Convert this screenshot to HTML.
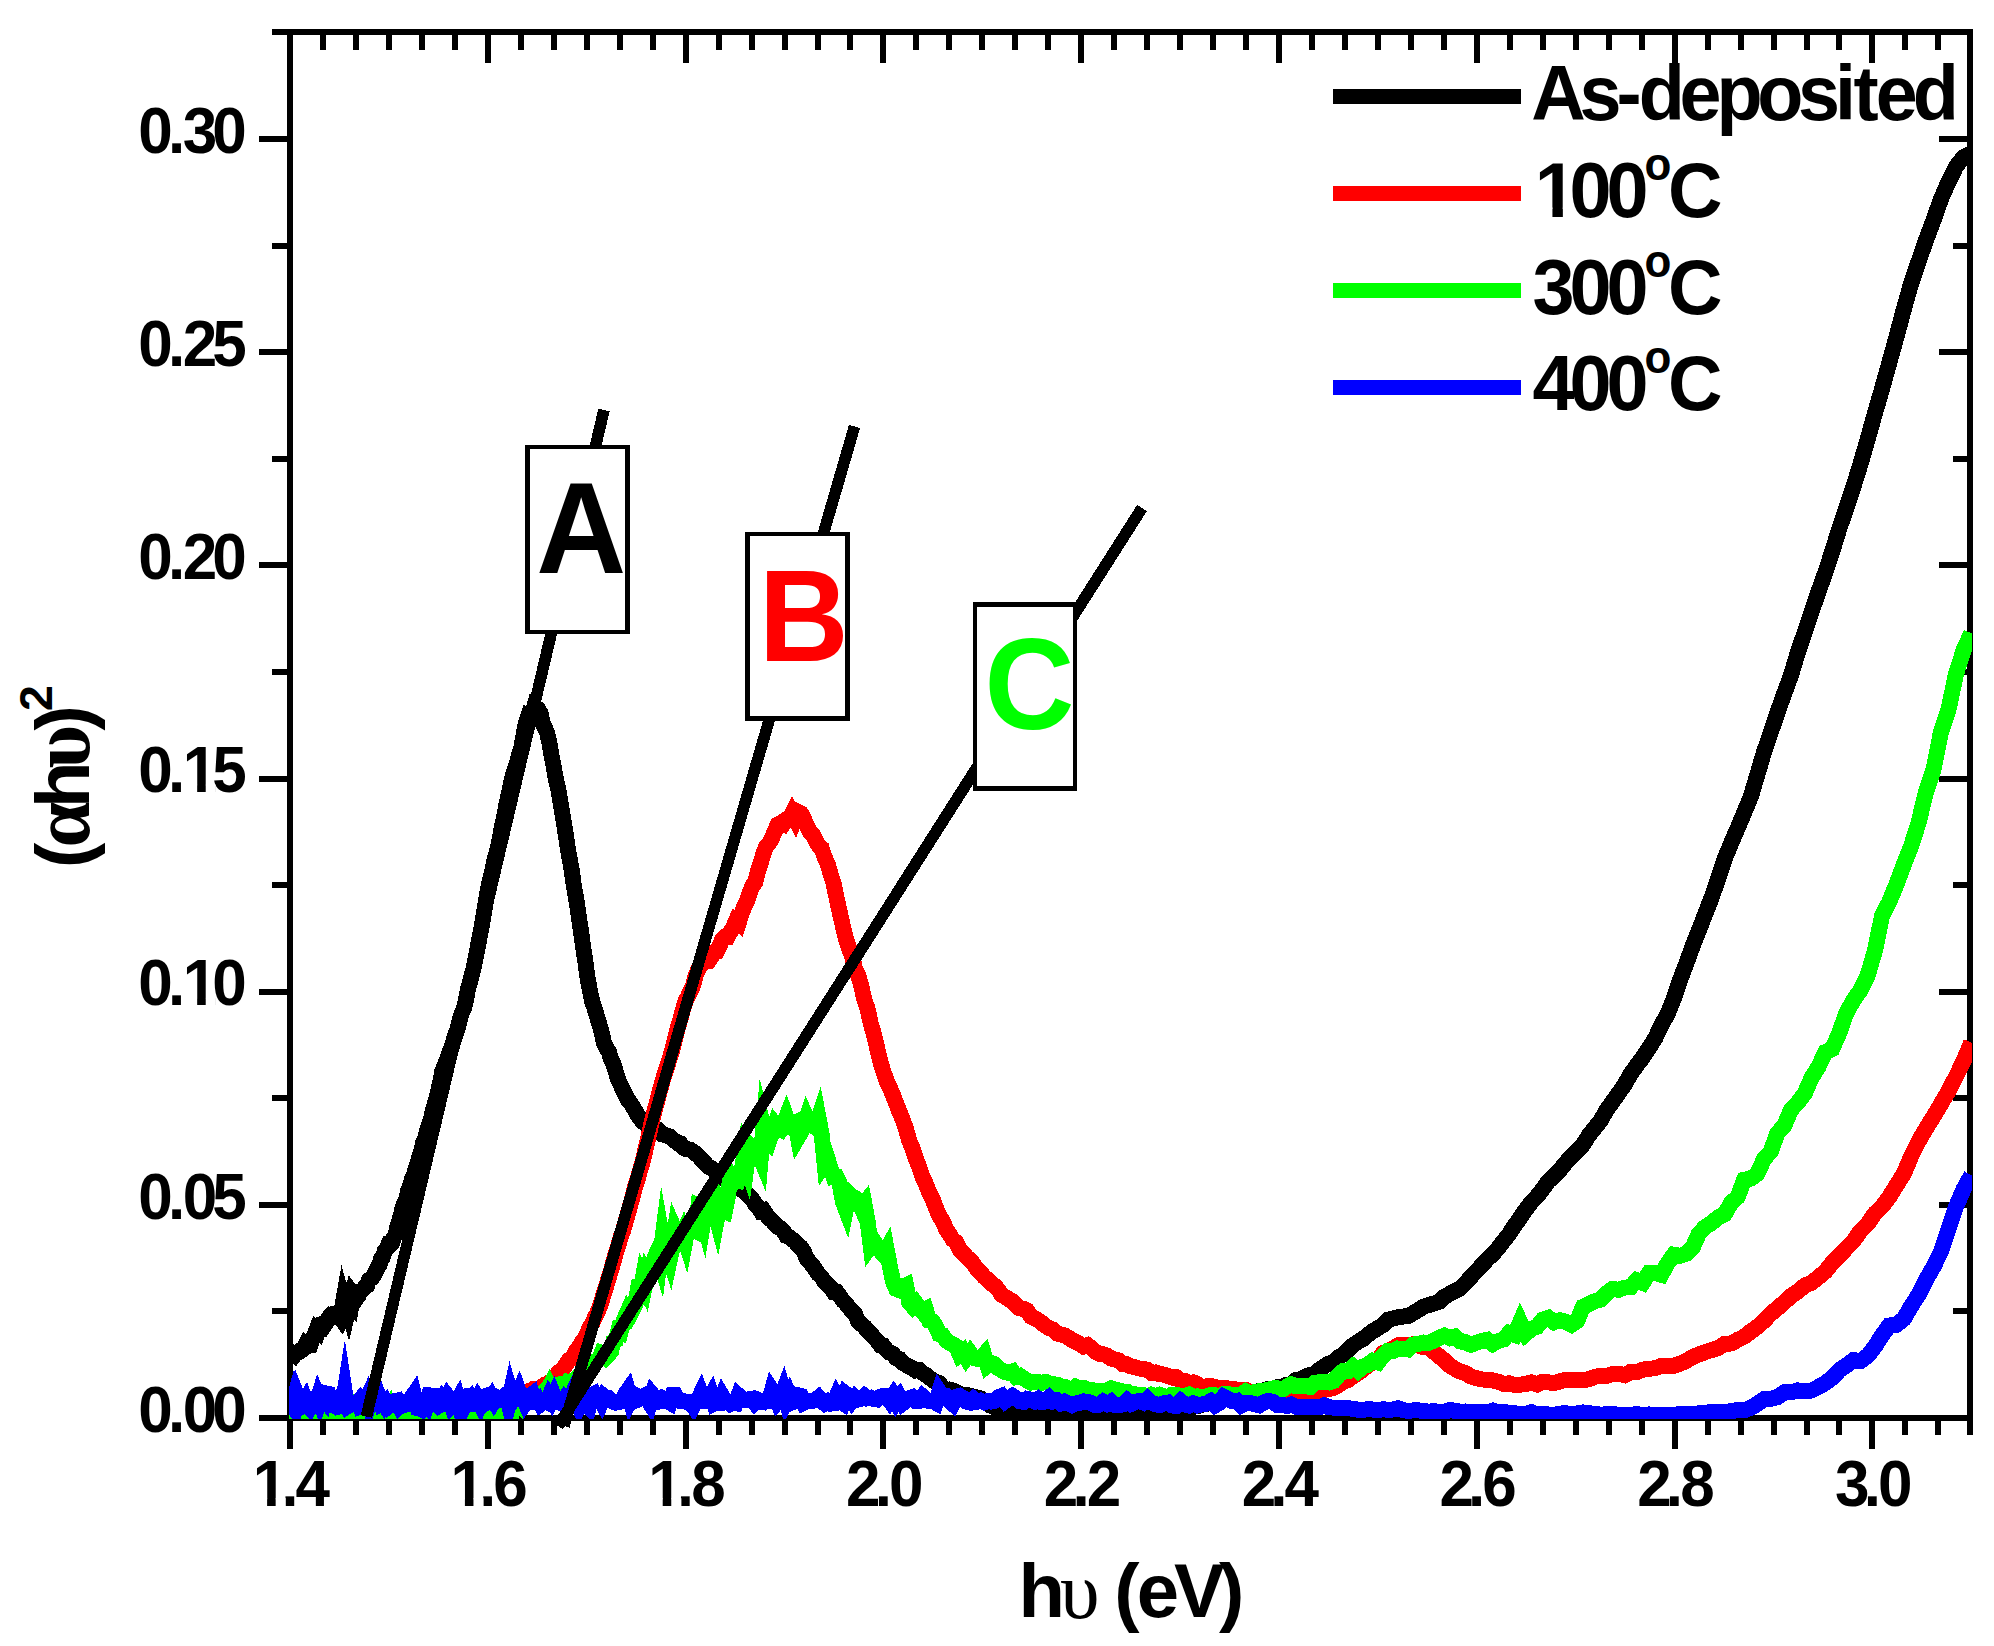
<!DOCTYPE html>
<html lang="en"><head><meta charset="utf-8"><title>(αhυ)² vs hυ (eV)</title>
<style>html,body{margin:0;padding:0;background:#fff}svg{display:block}text{font-family:"Liberation Sans",sans-serif;font-weight:bold}.sym{font-family:"Liberation Serif","DejaVu Serif",serif;font-weight:normal}.symb{font-family:"Liberation Serif","DejaVu Serif",serif;font-weight:bold}</style></head><body>
<svg width="1994" height="1646" viewBox="0 0 1994 1646">
<rect width="1994" height="1646" fill="#fff"/>
<g stroke="#000" stroke-width="6" fill="none" shape-rendering="crispEdges">
<path d="M290.0 29.0V1421.0 M1970.0 29.0V1421.0 M287.0 32.0H1973.0 M287.0 1418.0H1973.0"/>
<path d="M290.0 1418.0V1449.0 M323.0 32.0V50.0 M323.0 1418.0V1434.5 M355.9 32.0V50.0 M355.9 1418.0V1434.5 M388.9 32.0V50.0 M388.9 1418.0V1434.5 M421.9 32.0V50.0 M421.9 1418.0V1434.5 M454.8 32.0V50.0 M454.8 1418.0V1434.5 M487.8 32.0V63.0 M487.8 1418.0V1449.0 M520.8 32.0V50.0 M520.8 1418.0V1434.5 M553.7 32.0V50.0 M553.7 1418.0V1434.5 M586.7 32.0V50.0 M586.7 1418.0V1434.5 M619.7 32.0V50.0 M619.7 1418.0V1434.5 M652.6 32.0V50.0 M652.6 1418.0V1434.5 M685.6 32.0V63.0 M685.6 1418.0V1449.0 M718.6 32.0V50.0 M718.6 1418.0V1434.5 M751.5 32.0V50.0 M751.5 1418.0V1434.5 M784.5 32.0V50.0 M784.5 1418.0V1434.5 M817.5 32.0V50.0 M817.5 1418.0V1434.5 M850.4 32.0V50.0 M850.4 1418.0V1434.5 M883.4 32.0V63.0 M883.4 1418.0V1449.0 M916.4 32.0V50.0 M916.4 1418.0V1434.5 M949.3 32.0V50.0 M949.3 1418.0V1434.5 M982.3 32.0V50.0 M982.3 1418.0V1434.5 M1015.3 32.0V50.0 M1015.3 1418.0V1434.5 M1048.2 32.0V50.0 M1048.2 1418.0V1434.5 M1081.2 32.0V63.0 M1081.2 1418.0V1449.0 M1114.2 32.0V50.0 M1114.2 1418.0V1434.5 M1147.1 32.0V50.0 M1147.1 1418.0V1434.5 M1180.1 32.0V50.0 M1180.1 1418.0V1434.5 M1213.1 32.0V50.0 M1213.1 1418.0V1434.5 M1246.0 32.0V50.0 M1246.0 1418.0V1434.5 M1279.0 32.0V63.0 M1279.0 1418.0V1449.0 M1312.0 32.0V50.0 M1312.0 1418.0V1434.5 M1344.9 32.0V50.0 M1344.9 1418.0V1434.5 M1377.9 32.0V50.0 M1377.9 1418.0V1434.5 M1410.9 32.0V50.0 M1410.9 1418.0V1434.5 M1443.8 32.0V50.0 M1443.8 1418.0V1434.5 M1476.8 32.0V63.0 M1476.8 1418.0V1449.0 M1509.8 32.0V50.0 M1509.8 1418.0V1434.5 M1542.7 32.0V50.0 M1542.7 1418.0V1434.5 M1575.7 32.0V50.0 M1575.7 1418.0V1434.5 M1608.7 32.0V50.0 M1608.7 1418.0V1434.5 M1641.6 32.0V50.0 M1641.6 1418.0V1434.5 M1674.6 32.0V63.0 M1674.6 1418.0V1449.0 M1707.6 32.0V50.0 M1707.6 1418.0V1434.5 M1740.5 32.0V50.0 M1740.5 1418.0V1434.5 M1773.5 32.0V50.0 M1773.5 1418.0V1434.5 M1806.5 32.0V50.0 M1806.5 1418.0V1434.5 M1839.4 32.0V50.0 M1839.4 1418.0V1434.5 M1872.4 32.0V63.0 M1872.4 1418.0V1449.0 M1905.4 32.0V50.0 M1905.4 1418.0V1434.5 M1938.3 32.0V50.0 M1938.3 1418.0V1434.5 M1970.0 32.0V50.0 M1970.0 1418.0V1434.5 M290.0 1418.0H259.0 M290.0 1311.4H272.0 M1970.0 1311.4H1953.0 M290.0 1204.8H259.0 M1970.0 1204.8H1939.0 M290.0 1098.3H272.0 M1970.0 1098.3H1953.0 M290.0 991.7H259.0 M1970.0 991.7H1939.0 M290.0 885.1H272.0 M1970.0 885.1H1953.0 M290.0 778.5H259.0 M1970.0 778.5H1939.0 M290.0 671.9H272.0 M1970.0 671.9H1953.0 M290.0 565.3H259.0 M1970.0 565.3H1939.0 M290.0 458.8H272.0 M1970.0 458.8H1953.0 M290.0 352.2H259.0 M1970.0 352.2H1939.0 M290.0 245.6H272.0 M1970.0 245.6H1953.0 M290.0 139.0H259.0 M1970.0 139.0H1939.0 M290.0 32.4H272.0"/>
</g>
<clipPath id="pc"><rect x="289" y="30" width="1683" height="1389"/></clipPath>
<g clip-path="url(#pc)" shape-rendering="crispEdges">
<polyline points="289.6,1361.6 291.1,1359.5 292.7,1357.5 294.3,1352.7 295.8,1353.0 297.4,1352.4 299.0,1352.0 300.6,1350.2 302.2,1349.7 303.8,1348.0 305.4,1345.0 307.0,1346.5 308.6,1345.8 310.2,1345.5 311.8,1341.1 313.4,1337.1 315.0,1333.9 316.6,1329.6 318.3,1331.2 319.9,1327.0 321.5,1324.0 323.2,1323.3 324.8,1324.9 326.4,1322.4 328.1,1318.3 329.7,1316.4 331.4,1317.4 333.1,1316.0 334.7,1313.8 336.4,1313.5 338.1,1314.6 339.7,1316.8 341.4,1311.5 343.1,1301.9 344.8,1308.2 346.5,1303.9 348.2,1309.7 349.9,1302.4 351.6,1304.4 353.3,1294.9 355.0,1297.2 356.7,1298.2 358.4,1295.8 360.2,1291.3 361.9,1290.5 363.6,1288.9 365.4,1286.5 367.1,1285.5 368.8,1280.1 370.6,1278.8 372.3,1277.8 374.1,1274.7 375.9,1271.5 377.6,1267.9 379.4,1264.9 381.2,1258.6 382.9,1257.0 384.7,1251.3 386.5,1249.0 388.3,1244.7 390.1,1244.9 391.9,1243.1 393.7,1237.8 395.5,1235.0 397.3,1227.1 399.1,1221.2 401.0,1214.9 402.8,1207.1 404.6,1202.3 406.5,1198.9 408.3,1190.3 410.1,1185.8 412.0,1179.2 413.8,1175.4 415.7,1168.8 417.6,1162.9 419.4,1156.9 421.3,1150.6 423.2,1142.6 425.1,1139.3 426.9,1130.9 428.8,1125.8 430.7,1120.2 432.6,1111.7 434.5,1104.9 436.4,1098.9 438.4,1090.5 440.3,1081.7 442.2,1071.7 444.1,1066.7 446.1,1061.9 448.0,1056.9 449.9,1051.0 451.9,1046.6 453.8,1039.7 455.8,1033.7 457.8,1028.2 459.7,1020.1 461.7,1013.2 463.7,1009.1 465.7,1001.3 467.6,990.8 469.6,983.2 471.6,975.8 473.6,968.2 475.6,958.1 477.7,947.4 479.7,936.5 481.7,926.5 483.7,914.6 485.8,901.6 487.8,890.6 489.8,880.5 491.9,872.6 493.9,862.5 496.0,854.6 498.1,846.4 500.1,836.6 502.2,824.8 504.3,816.3 506.4,804.3 508.5,795.2 510.6,785.2 512.7,775.5 514.8,769.6 516.9,763.0 519.0,755.2 521.2,748.1 523.3,736.4 525.4,725.3 527.6,718.2 529.7,719.9 531.9,714.9 534.0,707.6 536.2,709.4 538.4,709.8 540.5,713.3 542.7,722.8 544.9,728.1 547.1,732.6 549.3,742.2 551.5,755.3 553.7,766.7 556.0,779.8 558.2,788.5 560.4,801.7 562.6,815.3 564.9,828.8 567.1,843.6 569.4,857.5 571.7,870.2 573.9,886.0 576.2,898.9 578.5,914.6 580.8,929.9 583.0,945.8 585.3,961.4 587.6,977.9 590.0,991.0 592.3,1001.7 594.6,1008.3 596.9,1016.2 599.3,1024.3 601.6,1031.8 604.0,1043.0 606.3,1047.9 608.7,1051.3 611.0,1059.0 613.4,1063.8 615.8,1071.8 618.2,1079.7 620.6,1084.7 623.0,1089.8 625.4,1094.6 627.8,1099.7 630.2,1102.6 632.7,1106.2 635.1,1110.5 637.5,1115.0 640.0,1118.0 642.5,1121.6 644.9,1123.4 647.4,1124.0 649.9,1125.8 652.4,1125.6 654.8,1127.6 657.3,1129.2 659.8,1132.0 662.4,1134.3 664.9,1134.9 667.4,1136.0 669.9,1136.4 672.5,1138.9 675.0,1141.1 677.6,1143.0 680.2,1143.4 682.7,1147.2 685.3,1148.8 687.9,1149.2 690.5,1149.9 693.1,1151.5 695.7,1153.8 698.3,1155.9 700.9,1158.6 703.6,1161.5 706.2,1164.6 708.9,1167.1 711.5,1168.3 714.2,1170.6 716.9,1172.0 719.5,1173.5 722.2,1177.7 724.9,1178.1 727.6,1181.7 730.3,1181.9 733.1,1183.6 735.8,1186.3 738.5,1187.5 741.3,1189.7 744.0,1191.4 746.8,1193.5 749.6,1196.4 752.3,1199.0 755.1,1204.2 757.9,1206.5 760.7,1211.2 763.5,1210.4 766.3,1214.6 769.2,1218.4 772.0,1220.5 774.9,1224.2 777.7,1226.7 780.6,1228.2 783.4,1230.9 786.3,1236.0 789.2,1237.1 792.1,1239.4 795.0,1241.5 797.9,1245.1 800.9,1247.3 803.8,1251.7 806.7,1258.5 809.7,1262.2 812.6,1265.6 815.6,1269.7 818.6,1274.3 821.6,1277.0 824.6,1281.8 827.6,1284.8 830.6,1287.3 833.6,1292.1 836.7,1292.0 839.7,1295.9 842.8,1300.5 845.8,1303.4 848.9,1307.5 852.0,1310.8 855.1,1314.3 858.2,1321.3 861.3,1324.1 864.4,1326.7 867.6,1331.1 870.7,1333.3 873.9,1337.4 877.0,1340.6 880.2,1345.1 883.4,1345.7 886.6,1350.0 889.8,1352.7 893.0,1354.0 896.2,1358.1 899.5,1359.0 902.7,1363.1 906.0,1364.7 909.3,1366.7 912.5,1368.0 915.8,1370.5 919.1,1370.0 922.4,1373.0 925.8,1374.7 929.1,1377.6 932.4,1379.7 935.8,1382.4 939.2,1383.1 942.5,1387.1 945.9,1390.1 949.3,1389.6 952.7,1390.4 956.2,1391.8 959.6,1394.1 963.1,1396.4 966.5,1395.0 970.0,1395.8 973.5,1396.5 977.0,1397.6 980.5,1398.4 984.0,1401.6 987.5,1402.2 991.0,1405.8 994.6,1407.4 998.2,1406.7 1001.7,1406.9 1005.3,1407.8 1008.9,1410.4 1012.5,1409.6 1016.2,1408.9 1019.8,1410.4 1023.5,1411.7 1027.1,1411.4 1030.8,1413.9 1034.5,1413.7 1038.2,1414.0 1041.9,1412.9 1045.6,1413.5 1049.4,1413.6 1053.1,1411.6 1056.9,1413.3 1060.7,1411.9 1064.5,1413.1 1068.3,1412.2 1072.1,1415.3 1075.9,1414.9 1079.8,1415.2 1083.7,1415.4 1087.5,1413.2 1091.4,1411.4 1095.3,1412.6 1099.2,1414.4 1103.2,1414.2 1107.1,1414.9 1111.1,1415.3 1115.1,1413.0 1119.0,1413.9 1123.0,1415.9 1127.1,1414.2 1131.1,1412.0 1135.1,1413.0 1139.2,1413.1 1143.3,1414.1 1147.4,1413.1 1151.5,1413.7 1155.6,1411.7 1159.7,1413.9 1163.9,1415.6 1168.1,1415.9 1172.2,1413.2 1176.4,1413.4 1180.7,1409.4 1184.9,1410.2 1189.1,1409.2 1193.4,1406.8 1197.7,1406.1 1202.0,1404.7 1206.3,1404.1 1210.6,1402.4 1214.9,1401.2 1219.3,1398.0 1223.7,1396.9 1228.1,1396.6 1232.5,1396.7 1236.9,1395.9 1241.3,1396.6 1245.8,1393.9 1250.3,1392.8 1254.7,1392.3 1259.3,1391.0 1263.8,1390.5 1268.3,1388.7 1272.9,1389.2 1277.5,1387.0 1282.1,1386.8 1286.7,1384.6 1291.3,1384.3 1296.0,1380.1 1300.6,1379.2 1305.3,1376.6 1310.0,1374.9 1314.8,1373.9 1319.5,1369.7 1324.3,1366.2 1329.0,1363.5 1333.8,1361.9 1338.7,1357.0 1343.5,1354.5 1348.3,1349.5 1353.2,1345.1 1358.1,1341.7 1363.0,1339.0 1368.0,1334.8 1372.9,1331.1 1377.9,1328.2 1382.9,1325.0 1387.9,1319.7 1392.9,1318.5 1398.0,1317.3 1403.1,1316.6 1408.2,1315.9 1413.3,1313.0 1418.4,1310.0 1423.6,1306.6 1428.8,1305.0 1434.0,1303.5 1439.2,1301.7 1444.4,1296.8 1449.7,1293.8 1455.0,1290.9 1460.3,1288.3 1465.7,1282.9 1471.0,1276.8 1476.4,1271.0 1481.8,1265.5 1487.2,1259.3 1492.7,1254.3 1498.1,1248.2 1503.6,1241.0 1509.1,1234.1 1514.7,1225.3 1520.2,1217.9 1525.8,1209.5 1531.4,1202.1 1537.1,1196.3 1542.7,1189.2 1548.4,1181.1 1554.1,1176.1 1559.9,1170.0 1565.6,1162.9 1571.4,1156.5 1577.2,1151.1 1583.0,1144.8 1588.9,1135.2 1594.8,1128.0 1600.7,1120.4 1606.6,1110.0 1612.6,1101.7 1618.6,1093.2 1624.6,1084.6 1630.6,1074.1 1636.7,1065.5 1642.8,1057.5 1648.9,1048.1 1655.1,1038.5 1661.3,1025.3 1667.5,1014.3 1673.7,999.0 1680.0,980.0 1686.3,963.7 1692.6,946.2 1698.9,930.5 1705.3,913.6 1711.7,897.5 1718.2,878.4 1724.6,859.1 1731.1,843.4 1737.6,828.3 1744.2,812.6 1750.8,796.8 1757.4,774.5 1764.0,752.2 1770.7,732.6 1777.4,712.8 1784.2,693.7 1791.0,675.3 1797.8,652.5 1804.6,632.7 1811.5,612.1 1818.4,591.8 1825.3,572.7 1832.3,551.3 1839.3,528.6 1846.3,508.3 1853.4,486.8 1860.5,464.1 1867.6,439.4 1874.8,413.8 1882.0,389.0 1889.2,363.2 1896.5,336.8 1903.8,309.5 1911.2,283.1 1918.6,261.6 1926.0,240.1 1933.4,220.6 1940.9,199.2 1948.5,181.8 1956.0,166.6 1963.7,156.9 1971.3,153.2" fill="none" stroke="#000" stroke-width="16" stroke-linejoin="miter" stroke-miterlimit="8" stroke-linecap="butt"/>
<polyline points="289.6,1408.2 291.1,1407.9 292.7,1409.1 294.3,1408.3 295.8,1408.1 297.4,1408.8 299.0,1407.8 300.6,1407.7 302.2,1408.0 303.8,1407.8 305.4,1407.3 307.0,1407.7 308.6,1407.7 310.2,1408.2 311.8,1407.2 313.4,1407.4 315.0,1408.3 316.6,1409.0 318.3,1407.6 319.9,1408.2 321.5,1407.5 323.2,1407.4 324.8,1407.3 326.4,1407.5 328.1,1408.3 329.7,1408.4 331.4,1408.2 333.1,1407.8 334.7,1407.9 336.4,1407.9 338.1,1408.3 339.7,1407.7 341.4,1407.9 343.1,1407.8 344.8,1407.9 346.5,1408.0 348.2,1408.1 349.9,1408.7 351.6,1408.1 353.3,1408.8 355.0,1408.0 356.7,1407.7 358.4,1407.9 360.2,1408.0 361.9,1408.1 363.6,1408.6 365.4,1408.7 367.1,1408.4 368.8,1407.8 370.6,1407.8 372.3,1408.6 374.1,1408.2 375.9,1407.2 377.6,1407.2 379.4,1407.2 381.2,1408.2 382.9,1407.8 384.7,1409.0 386.5,1408.5 388.3,1408.1 390.1,1407.6 391.9,1408.2 393.7,1407.7 395.5,1407.2 397.3,1407.8 399.1,1407.7 401.0,1408.3 402.8,1407.8 404.6,1406.0 406.5,1407.4 408.3,1406.4 410.1,1408.0 412.0,1408.7 413.8,1407.7 415.7,1406.8 417.6,1406.4 419.4,1407.6 421.3,1407.3 423.2,1407.0 425.1,1407.1 426.9,1408.5 428.8,1407.9 430.7,1407.9 432.6,1408.0 434.5,1408.1 436.4,1408.2 438.4,1407.1 440.3,1407.0 442.2,1406.6 444.1,1406.5 446.1,1407.6 448.0,1406.9 449.9,1406.9 451.9,1406.5 453.8,1406.4 455.8,1407.2 457.8,1406.7 459.7,1406.5 461.7,1407.0 463.7,1407.2 465.7,1407.4 467.6,1407.0 469.6,1405.7 471.6,1406.7 473.6,1406.9 475.6,1407.3 477.7,1406.2 479.7,1408.0 481.7,1406.2 483.7,1406.8 485.8,1406.5 487.8,1406.0 489.8,1406.7 491.9,1406.2 493.9,1404.6 496.0,1404.8 498.1,1405.9 500.1,1407.4 502.2,1405.2 504.3,1404.9 506.4,1405.1 508.5,1403.9 510.6,1401.9 512.7,1399.5 514.8,1397.6 516.9,1396.7 519.0,1395.9 521.2,1393.6 523.3,1392.6 525.4,1392.9 527.6,1391.9 529.7,1390.6 531.9,1389.8 534.0,1388.6 536.2,1388.7 538.4,1388.5 540.5,1388.0 542.7,1386.1 544.9,1384.6 547.1,1383.7 549.3,1382.6 551.5,1381.0 553.7,1379.1 556.0,1375.8 558.2,1372.5 560.4,1371.6 562.6,1369.0 564.9,1366.3 567.1,1363.0 569.4,1359.6 571.7,1358.6 573.9,1355.4 576.2,1350.8 578.5,1347.8 580.8,1344.1 583.0,1340.4 585.3,1337.8 587.6,1332.6 590.0,1327.0 592.3,1323.2 594.6,1318.1 596.9,1313.7 599.3,1308.0 601.6,1301.1 604.0,1293.0 606.3,1286.0 608.7,1277.8 611.0,1270.5 613.4,1262.0 615.8,1253.1 618.2,1246.1 620.6,1237.4 623.0,1230.8 625.4,1222.4 627.8,1214.1 630.2,1205.4 632.7,1196.7 635.1,1186.3 637.5,1180.0 640.0,1170.4 642.5,1162.5 644.9,1152.0 647.4,1141.5 649.9,1130.3 652.4,1119.3 654.8,1109.7 657.3,1100.8 659.8,1091.2 662.4,1081.5 664.9,1073.3 667.4,1065.6 669.9,1058.0 672.5,1049.3 675.0,1039.5 677.6,1028.5 680.2,1019.9 682.7,1010.5 685.3,1001.7 687.9,996.7 690.5,991.2 693.1,985.4 695.7,975.2 698.3,969.7 700.9,964.9 703.6,962.5 706.2,960.4 708.9,960.7 711.5,957.1 714.2,952.5 716.9,951.7 719.5,946.0 722.2,939.5 724.9,937.1 727.6,937.1 730.3,932.1 733.1,927.5 735.8,921.2 738.5,923.3 741.3,914.8 744.0,906.8 746.8,902.0 749.6,893.0 752.3,886.0 755.1,882.7 757.9,871.4 760.7,862.9 763.5,853.6 766.3,846.3 769.2,843.1 772.0,838.1 774.9,831.0 777.7,824.6 780.6,823.0 783.4,824.2 786.3,819.9 789.2,819.4 792.1,813.6 795.0,819.0 797.9,811.7 800.9,813.2 803.8,818.7 806.7,825.5 809.7,831.6 812.6,834.5 815.6,840.4 818.6,845.6 821.6,848.1 824.6,857.4 827.6,863.7 830.6,874.1 833.6,883.4 836.7,898.6 839.7,912.2 842.8,925.8 845.8,938.3 848.9,948.0 852.0,955.6 855.1,969.5 858.2,974.9 861.3,986.2 864.4,999.8 867.6,1008.9 870.7,1023.4 873.9,1034.0 877.0,1047.4 880.2,1061.2 883.4,1071.6 886.6,1080.9 889.8,1087.4 893.0,1095.2 896.2,1103.5 899.5,1112.0 902.7,1119.5 906.0,1129.1 909.3,1140.7 912.5,1148.3 915.8,1158.5 919.1,1166.7 922.4,1176.5 925.8,1183.9 929.1,1192.5 932.4,1198.7 935.8,1207.4 939.2,1215.8 942.5,1220.6 945.9,1228.8 949.3,1233.7 952.7,1239.5 956.2,1242.1 959.6,1249.4 963.1,1252.9 966.5,1256.9 970.0,1260.1 973.5,1263.8 977.0,1269.4 980.5,1272.2 984.0,1276.7 987.5,1279.5 991.0,1283.2 994.6,1285.7 998.2,1289.6 1001.7,1294.9 1005.3,1296.9 1008.9,1299.4 1012.5,1301.2 1016.2,1305.1 1019.8,1308.5 1023.5,1308.6 1027.1,1310.6 1030.8,1316.3 1034.5,1318.3 1038.2,1320.3 1041.9,1323.0 1045.6,1325.9 1049.4,1328.2 1053.1,1329.5 1056.9,1333.5 1060.7,1334.5 1064.5,1335.4 1068.3,1337.5 1072.1,1340.0 1075.9,1341.9 1079.8,1344.1 1083.7,1346.5 1087.5,1345.2 1091.4,1348.1 1095.3,1351.8 1099.2,1353.8 1103.2,1354.3 1107.1,1355.5 1111.1,1358.6 1115.1,1359.5 1119.0,1360.6 1123.0,1364.2 1127.1,1364.4 1131.1,1366.4 1135.1,1367.3 1139.2,1368.5 1143.3,1368.8 1147.4,1369.8 1151.5,1372.9 1155.6,1372.5 1159.7,1374.4 1163.9,1374.5 1168.1,1376.1 1172.2,1377.6 1176.4,1377.3 1180.7,1380.5 1184.9,1381.0 1189.1,1383.1 1193.4,1382.4 1197.7,1384.4 1202.0,1387.0 1206.3,1386.4 1210.6,1385.9 1214.9,1387.2 1219.3,1387.7 1223.7,1388.0 1228.1,1388.5 1232.5,1388.6 1236.9,1389.9 1241.3,1390.0 1245.8,1389.9 1250.3,1391.7 1254.7,1391.7 1259.3,1394.4 1263.8,1392.8 1268.3,1391.9 1272.9,1391.8 1277.5,1392.8 1282.1,1392.2 1286.7,1391.5 1291.3,1394.0 1296.0,1392.2 1300.6,1394.1 1305.3,1393.3 1310.0,1391.7 1314.8,1393.3 1319.5,1391.7 1324.3,1389.9 1329.0,1389.0 1333.8,1387.9 1338.7,1384.9 1343.5,1381.8 1348.3,1379.8 1353.2,1376.0 1358.1,1373.0 1363.0,1369.5 1368.0,1365.1 1372.9,1362.4 1377.9,1360.2 1382.9,1353.1 1387.9,1351.7 1392.9,1348.5 1398.0,1345.3 1403.1,1344.7 1408.2,1345.7 1413.3,1344.1 1418.4,1345.5 1423.6,1347.1 1428.8,1347.7 1434.0,1352.0 1439.2,1356.3 1444.4,1360.4 1449.7,1365.6 1455.0,1368.8 1460.3,1371.6 1465.7,1373.2 1471.0,1376.6 1476.4,1378.2 1481.8,1379.4 1487.2,1379.9 1492.7,1380.4 1498.1,1381.7 1503.6,1383.9 1509.1,1383.3 1514.7,1385.1 1520.2,1384.6 1525.8,1384.0 1531.4,1382.3 1537.1,1384.4 1542.7,1381.7 1548.4,1382.3 1554.1,1383.2 1559.9,1381.3 1565.6,1379.8 1571.4,1379.6 1577.2,1380.0 1583.0,1380.2 1588.9,1379.2 1594.8,1376.8 1600.7,1375.9 1606.6,1375.9 1612.6,1374.0 1618.6,1373.6 1624.6,1375.2 1630.6,1371.9 1636.7,1372.2 1642.8,1369.7 1648.9,1368.8 1655.1,1368.2 1661.3,1366.0 1667.5,1365.8 1673.7,1365.9 1680.0,1363.7 1686.3,1361.0 1692.6,1356.9 1698.9,1354.5 1705.3,1352.1 1711.7,1350.0 1718.2,1348.1 1724.6,1343.8 1731.1,1343.5 1737.6,1339.9 1744.2,1336.7 1750.8,1331.5 1757.4,1326.8 1764.0,1320.8 1770.7,1313.9 1777.4,1308.3 1784.2,1302.4 1791.0,1295.9 1797.8,1291.5 1804.6,1285.7 1811.5,1282.7 1818.4,1277.3 1825.3,1271.6 1832.3,1262.6 1839.3,1256.0 1846.3,1248.3 1853.4,1241.1 1860.5,1230.9 1867.6,1223.9 1874.8,1213.5 1882.0,1206.6 1889.2,1197.2 1896.5,1185.2 1903.8,1173.8 1911.2,1156.1 1918.6,1141.3 1926.0,1128.6 1933.4,1116.7 1940.9,1104.1 1948.5,1091.0 1956.0,1076.6 1963.7,1060.8 1971.3,1042.5" fill="none" stroke="#f00" stroke-width="16" stroke-linejoin="miter" stroke-miterlimit="8" stroke-linecap="butt"/>
<polyline points="289.6,1421.4 291.1,1417.4 292.7,1415.9 294.3,1410.3 295.8,1415.3 297.4,1415.8 299.0,1415.4 300.6,1417.4 302.2,1418.1 303.8,1414.7 305.4,1414.3 307.0,1415.2 308.6,1418.2 310.2,1418.7 311.8,1414.2 313.4,1413.6 315.0,1417.9 316.6,1421.0 318.3,1417.9 319.9,1415.6 321.5,1419.3 323.2,1416.8 324.8,1418.7 326.4,1421.1 328.1,1419.5 329.7,1417.8 331.4,1418.9 333.1,1415.9 334.7,1416.3 336.4,1415.4 338.1,1416.1 339.7,1415.5 341.4,1416.1 343.1,1415.8 344.8,1416.9 346.5,1417.1 348.2,1417.7 349.9,1420.5 351.6,1414.1 353.3,1419.3 355.0,1416.9 356.7,1413.9 358.4,1415.7 360.2,1416.8 361.9,1419.5 363.6,1415.0 365.4,1416.9 367.1,1417.2 368.8,1412.9 370.6,1413.0 372.3,1417.3 374.1,1418.7 375.9,1419.9 377.6,1418.9 379.4,1418.3 381.2,1417.5 382.9,1419.9 384.7,1415.5 386.5,1416.1 388.3,1417.6 390.1,1413.1 391.9,1419.0 393.7,1415.4 395.5,1416.2 397.3,1421.8 399.1,1416.0 401.0,1415.3 402.8,1420.1 404.6,1414.9 406.5,1415.2 408.3,1417.5 410.1,1418.0 412.0,1418.4 413.8,1418.0 415.7,1420.2 417.6,1420.0 419.4,1418.9 421.3,1415.5 423.2,1414.6 425.1,1411.4 426.9,1416.9 428.8,1412.2 430.7,1417.6 432.6,1421.2 434.5,1415.1 436.4,1414.5 438.4,1414.8 440.3,1418.0 442.2,1414.7 444.1,1415.7 446.1,1414.9 448.0,1415.4 449.9,1419.2 451.9,1414.7 453.8,1416.1 455.8,1416.9 457.8,1418.5 459.7,1413.7 461.7,1418.3 463.7,1417.8 465.7,1418.7 467.6,1417.0 469.6,1412.4 471.6,1413.6 473.6,1417.4 475.6,1416.5 477.7,1416.0 479.7,1420.3 481.7,1422.4 483.7,1417.3 485.8,1420.5 487.8,1411.5 489.8,1408.8 491.9,1414.7 493.9,1413.0 496.0,1414.1 498.1,1413.6 500.1,1411.4 502.2,1412.1 504.3,1410.4 506.4,1405.2 508.5,1407.4 510.6,1407.2 512.7,1410.5 514.8,1403.5 516.9,1403.9 519.0,1402.3 521.2,1402.0 523.3,1405.6 525.4,1402.7 527.6,1399.2 529.7,1399.0 531.9,1399.7 534.0,1394.9 536.2,1394.7 538.4,1398.3 540.5,1396.8 542.7,1393.5 544.9,1391.0 547.1,1390.6 549.3,1386.5 551.5,1391.0 553.7,1390.1 556.0,1388.9 558.2,1384.5 560.4,1384.3 562.6,1386.6 564.9,1385.9 567.1,1383.0 569.4,1384.3 571.7,1385.0 573.9,1380.1 576.2,1378.4 578.5,1376.1 580.8,1373.6 583.0,1377.6 585.3,1376.6 587.6,1374.4 590.0,1367.3 592.3,1363.8 594.6,1363.8 596.9,1360.4 599.3,1358.9 601.6,1353.2 604.0,1354.2 606.3,1356.7 608.7,1354.2 611.0,1351.6 613.4,1341.6 615.8,1340.2 618.2,1330.9 620.6,1332.1 623.0,1322.8 625.4,1316.7 627.8,1311.2 630.2,1314.6 632.7,1309.9 635.1,1305.0 637.5,1291.7 640.0,1293.4 642.5,1279.8 644.9,1285.4 647.4,1273.0 649.9,1276.8 652.4,1272.0 654.8,1257.0 657.3,1251.6 659.8,1259.8 662.4,1239.4 664.9,1253.6 667.4,1251.3 669.9,1259.2 672.5,1247.2 675.0,1230.2 677.6,1236.1 680.2,1237.8 682.7,1232.6 685.3,1240.7 687.9,1226.9 690.5,1223.8 693.1,1229.9 695.7,1231.1 698.3,1207.2 700.9,1208.9 703.6,1219.5 706.2,1203.5 708.9,1202.0 711.5,1198.2 714.2,1208.3 716.9,1218.8 719.5,1204.7 722.2,1210.7 724.9,1211.7 727.6,1198.1 730.3,1177.3 733.1,1182.8 735.8,1179.2 738.5,1180.2 741.3,1173.6 744.0,1156.2 746.8,1164.8 749.6,1144.9 752.3,1147.2 755.1,1152.6 757.9,1151.7 760.7,1158.5 763.5,1126.5 766.3,1137.6 769.2,1141.0 772.0,1133.0 774.9,1124.6 777.7,1128.3 780.6,1129.6 783.4,1124.4 786.3,1117.1 789.2,1125.2 792.1,1123.7 795.0,1122.5 797.9,1137.5 800.9,1132.4 803.8,1126.9 806.7,1118.2 809.7,1125.1 812.6,1125.2 815.6,1127.4 818.6,1118.3 821.6,1134.0 824.6,1163.4 827.6,1159.0 830.6,1168.3 833.6,1177.4 836.7,1177.3 839.7,1183.3 842.8,1201.4 845.8,1209.3 848.9,1193.6 852.0,1196.4 855.1,1197.9 858.2,1201.6 861.3,1208.0 864.4,1203.9 867.6,1221.2 870.7,1245.8 873.9,1241.3 877.0,1245.8 880.2,1250.8 883.4,1254.4 886.6,1249.0 889.8,1265.8 893.0,1281.5 896.2,1288.9 899.5,1290.1 902.7,1286.8 906.0,1285.2 909.3,1302.6 912.5,1306.2 915.8,1302.9 919.1,1307.2 922.4,1311.4 925.8,1309.5 929.1,1320.5 932.4,1321.2 935.8,1326.1 939.2,1334.0 942.5,1335.0 945.9,1340.0 949.3,1342.9 952.7,1344.2 956.2,1346.4 959.6,1354.3 963.1,1351.4 966.5,1357.5 970.0,1352.9 973.5,1357.8 977.0,1358.8 980.5,1358.0 984.0,1354.4 987.5,1365.6 991.0,1362.9 994.6,1364.1 998.2,1368.2 1001.7,1370.2 1005.3,1372.3 1008.9,1372.8 1012.5,1371.6 1016.2,1376.8 1019.8,1375.8 1023.5,1378.4 1027.1,1380.4 1030.8,1382.5 1034.5,1381.7 1038.2,1382.1 1041.9,1382.9 1045.6,1381.9 1049.4,1383.5 1053.1,1384.2 1056.9,1384.6 1060.7,1386.4 1064.5,1386.7 1068.3,1389.1 1072.1,1389.9 1075.9,1386.8 1079.8,1388.4 1083.7,1387.9 1087.5,1389.6 1091.4,1389.8 1095.3,1390.9 1099.2,1390.8 1103.2,1391.4 1107.1,1390.7 1111.1,1388.4 1115.1,1389.6 1119.0,1390.6 1123.0,1391.6 1127.1,1391.7 1131.1,1394.9 1135.1,1394.2 1139.2,1396.0 1143.3,1395.0 1147.4,1397.2 1151.5,1394.9 1155.6,1396.4 1159.7,1394.7 1163.9,1396.1 1168.1,1397.7 1172.2,1394.7 1176.4,1394.7 1180.7,1395.9 1184.9,1395.8 1189.1,1394.5 1193.4,1396.9 1197.7,1396.3 1202.0,1397.4 1206.3,1396.7 1210.6,1394.9 1214.9,1395.2 1219.3,1397.0 1223.7,1394.3 1228.1,1394.2 1232.5,1395.0 1236.9,1395.2 1241.3,1394.6 1245.8,1391.6 1250.3,1394.2 1254.7,1392.0 1259.3,1391.2 1263.8,1390.7 1268.3,1389.9 1272.9,1388.5 1277.5,1388.4 1282.1,1389.7 1286.7,1386.7 1291.3,1384.3 1296.0,1386.4 1300.6,1386.1 1305.3,1386.1 1310.0,1387.0 1314.8,1382.8 1319.5,1382.2 1324.3,1381.8 1329.0,1382.4 1333.8,1380.8 1338.7,1374.9 1343.5,1370.9 1348.3,1371.1 1353.2,1366.7 1358.1,1370.7 1363.0,1366.7 1368.0,1364.5 1372.9,1360.9 1377.9,1362.5 1382.9,1356.0 1387.9,1350.9 1392.9,1351.1 1398.0,1348.5 1403.1,1348.6 1408.2,1349.4 1413.3,1344.5 1418.4,1343.8 1423.6,1342.5 1428.8,1342.8 1434.0,1340.5 1439.2,1338.0 1444.4,1335.6 1449.7,1338.1 1455.0,1336.5 1460.3,1341.4 1465.7,1342.3 1471.0,1344.8 1476.4,1342.6 1481.8,1341.0 1487.2,1339.8 1492.7,1344.0 1498.1,1341.1 1503.6,1339.4 1509.1,1333.0 1514.7,1334.9 1520.2,1322.0 1525.8,1333.7 1531.4,1328.8 1537.1,1326.7 1542.7,1319.7 1548.4,1317.7 1554.1,1322.2 1559.9,1320.2 1565.6,1321.8 1571.4,1324.8 1577.2,1320.9 1583.0,1306.8 1588.9,1304.1 1594.8,1301.2 1600.7,1299.6 1606.6,1293.1 1612.6,1289.0 1618.6,1289.7 1624.6,1287.6 1630.6,1287.2 1636.7,1280.3 1642.8,1282.9 1648.9,1273.1 1655.1,1272.8 1661.3,1274.7 1667.5,1263.5 1673.7,1254.7 1680.0,1255.9 1686.3,1253.6 1692.6,1247.7 1698.9,1233.5 1705.3,1227.0 1711.7,1222.8 1718.2,1217.4 1724.6,1214.4 1731.1,1202.9 1737.6,1197.1 1744.2,1179.8 1750.8,1178.5 1757.4,1173.8 1764.0,1159.1 1770.7,1151.6 1777.4,1133.2 1784.2,1125.6 1791.0,1109.9 1797.8,1102.5 1804.6,1093.7 1811.5,1078.0 1818.4,1067.0 1825.3,1052.1 1832.3,1048.9 1839.3,1032.8 1846.3,1013.1 1853.4,1000.2 1860.5,990.3 1867.6,975.5 1874.8,951.3 1882.0,916.1 1889.2,902.1 1896.5,884.2 1903.8,864.6 1911.2,845.9 1918.6,822.6 1926.0,791.8 1933.4,770.1 1940.9,732.4 1948.5,709.7 1956.0,673.9 1963.7,650.0 1971.3,633.3" fill="none" stroke="#0f0" stroke-width="16" stroke-linejoin="miter" stroke-miterlimit="8" stroke-linecap="butt"/>
<polyline points="289.6,1403.2 291.1,1402.9 292.7,1405.4 294.3,1399.3 295.8,1404.3 297.4,1396.5 299.0,1400.5 300.6,1401.5 302.2,1405.3 303.8,1404.0 305.4,1401.1 307.0,1405.7 308.6,1407.2 310.2,1403.0 311.8,1404.7 313.4,1402.3 315.0,1403.6 316.6,1403.9 318.3,1398.1 319.9,1402.1 321.5,1398.3 323.2,1397.5 324.8,1399.6 326.4,1393.5 328.1,1393.9 329.7,1401.5 331.4,1404.3 333.1,1405.2 334.7,1402.6 336.4,1404.5 338.1,1406.6 339.7,1406.5 341.4,1399.4 343.1,1394.4 344.8,1402.4 346.5,1405.5 348.2,1403.9 349.9,1405.2 351.6,1404.3 353.3,1404.0 355.0,1404.0 356.7,1403.8 358.4,1401.8 360.2,1406.5 361.9,1405.9 363.6,1402.6 365.4,1401.7 367.1,1398.1 368.8,1403.4 370.6,1397.0 372.3,1399.8 374.1,1404.1 375.9,1404.4 377.6,1404.5 379.4,1398.9 381.2,1403.9 382.9,1403.0 384.7,1405.5 386.5,1403.2 388.3,1406.2 390.1,1404.7 391.9,1404.9 393.7,1402.6 395.5,1401.0 397.3,1400.6 399.1,1404.5 401.0,1402.0 402.8,1402.1 404.6,1405.0 406.5,1404.5 408.3,1402.8 410.1,1403.4 412.0,1397.0 413.8,1394.4 415.7,1402.2 417.6,1407.9 419.4,1408.1 421.3,1409.1 423.2,1405.7 425.1,1402.5 426.9,1404.7 428.8,1398.8 430.7,1388.9 432.6,1400.4 434.5,1404.3 436.4,1404.4 438.4,1406.1 440.3,1405.1 442.2,1404.0 444.1,1398.9 446.1,1400.9 448.0,1396.8 449.9,1399.2 451.9,1405.6 453.8,1403.8 455.8,1403.6 457.8,1400.1 459.7,1407.0 461.7,1396.9 463.7,1396.6 465.7,1403.4 467.6,1399.7 469.6,1398.0 471.6,1402.7 473.6,1403.8 475.6,1403.9 477.7,1399.6 479.7,1403.2 481.7,1397.5 483.7,1396.7 485.8,1396.0 487.8,1401.6 489.8,1400.3 491.9,1397.2 493.9,1400.6 496.0,1397.0 498.1,1398.1 500.1,1399.3 502.2,1398.5 504.3,1396.3 506.4,1394.6 508.5,1402.8 510.6,1393.3 512.7,1400.4 514.8,1397.6 516.9,1397.2 519.0,1392.3 521.2,1398.5 523.3,1398.1 525.4,1402.9 527.6,1399.9 529.7,1396.0 531.9,1394.4 534.0,1402.1 536.2,1402.5 538.4,1400.5 540.5,1404.1 542.7,1402.5 544.9,1400.7 547.1,1401.9 549.3,1396.7 551.5,1400.1 553.7,1395.6 556.0,1401.3 558.2,1402.1 560.4,1401.0 562.6,1402.8 564.9,1399.1 567.1,1401.5 569.4,1400.7 571.7,1395.6 573.9,1401.3 576.2,1404.0 578.5,1407.5 580.8,1402.8 583.0,1402.1 585.3,1404.2 587.6,1398.5 590.0,1403.1 592.3,1395.0 594.6,1393.8 596.9,1397.5 599.3,1397.9 601.6,1402.0 604.0,1396.8 606.3,1398.8 608.7,1398.5 611.0,1400.5 613.4,1401.7 615.8,1402.6 618.2,1401.7 620.6,1401.6 623.0,1400.9 625.4,1393.9 627.8,1390.5 630.2,1399.1 632.7,1394.0 635.1,1395.1 637.5,1399.8 640.0,1398.8 642.5,1396.5 644.9,1395.3 647.4,1399.1 649.9,1403.1 652.4,1394.8 654.8,1397.7 657.3,1402.0 659.8,1401.4 662.4,1398.5 664.9,1400.0 667.4,1401.2 669.9,1402.6 672.5,1394.9 675.0,1395.0 677.6,1400.1 680.2,1401.3 682.7,1401.2 685.3,1401.5 687.9,1402.5 690.5,1402.0 693.1,1405.8 695.7,1400.8 698.3,1399.1 700.9,1393.7 703.6,1400.8 706.2,1401.0 708.9,1400.2 711.5,1395.4 714.2,1403.5 716.9,1402.2 719.5,1402.6 722.2,1396.1 724.9,1400.6 727.6,1401.5 730.3,1404.0 733.1,1402.6 735.8,1403.1 738.5,1395.6 741.3,1398.1 744.0,1400.2 746.8,1400.0 749.6,1399.1 752.3,1398.7 755.1,1402.7 757.9,1400.2 760.7,1401.8 763.5,1402.2 766.3,1400.2 769.2,1400.7 772.0,1390.5 774.9,1394.9 777.7,1401.8 780.6,1398.7 783.4,1391.2 786.3,1401.1 789.2,1395.4 792.1,1402.3 795.0,1401.0 797.9,1395.3 800.9,1396.0 803.8,1402.8 806.7,1401.5 809.7,1400.6 812.6,1400.8 815.6,1400.0 818.6,1397.6 821.6,1401.2 824.6,1403.4 827.6,1401.5 830.6,1403.6 833.6,1403.4 836.7,1396.2 839.7,1401.2 842.8,1403.1 845.8,1393.9 848.9,1396.2 852.0,1400.8 855.1,1397.0 858.2,1399.4 861.3,1398.7 864.4,1395.9 867.6,1398.3 870.7,1397.7 873.9,1399.1 877.0,1399.5 880.2,1396.9 883.4,1395.7 886.6,1396.0 889.8,1400.6 893.0,1395.9 896.2,1402.0 899.5,1397.4 902.7,1403.2 906.0,1400.7 909.3,1398.3 912.5,1397.2 915.8,1400.7 919.1,1400.6 922.4,1396.5 925.8,1399.6 929.1,1401.0 932.4,1400.8 935.8,1402.7 939.2,1391.8 942.5,1396.7 945.9,1396.5 949.3,1400.7 952.7,1403.7 956.2,1397.0 959.6,1395.9 963.1,1398.0 966.5,1401.7 970.0,1402.6 973.5,1399.0 977.0,1401.7 980.5,1400.7 984.0,1402.3 987.5,1401.2 991.0,1401.6 994.6,1400.9 998.2,1397.4 1001.7,1396.0 1005.3,1400.7 1008.9,1398.0 1012.5,1396.0 1016.2,1398.4 1019.8,1401.1 1023.5,1401.8 1027.1,1398.9 1030.8,1399.6 1034.5,1401.4 1038.2,1399.0 1041.9,1402.0 1045.6,1401.4 1049.4,1397.8 1053.1,1401.5 1056.9,1400.4 1060.7,1403.3 1064.5,1401.5 1068.3,1403.5 1072.1,1405.2 1075.9,1403.4 1079.8,1402.8 1083.7,1401.4 1087.5,1401.8 1091.4,1403.0 1095.3,1405.1 1099.2,1404.7 1103.2,1401.7 1107.1,1404.0 1111.1,1401.7 1115.1,1405.0 1119.0,1405.1 1123.0,1404.3 1127.1,1400.6 1131.1,1403.8 1135.1,1401.9 1139.2,1401.0 1143.3,1402.6 1147.4,1399.0 1151.5,1402.7 1155.6,1404.2 1159.7,1405.1 1163.9,1403.2 1168.1,1402.6 1172.2,1405.5 1176.4,1406.0 1180.7,1401.2 1184.9,1404.5 1189.1,1405.5 1193.4,1403.4 1197.7,1405.3 1202.0,1404.4 1206.3,1403.6 1210.6,1401.4 1214.9,1405.4 1219.3,1402.9 1223.7,1396.8 1228.1,1399.1 1232.5,1401.3 1236.9,1400.7 1241.3,1405.5 1245.8,1403.1 1250.3,1403.1 1254.7,1404.3 1259.3,1405.3 1263.8,1402.4 1268.3,1400.8 1272.9,1402.0 1277.5,1405.2 1282.1,1404.7 1286.7,1406.0 1291.3,1404.6 1296.0,1406.6 1300.6,1406.6 1305.3,1406.6 1310.0,1407.1 1314.8,1407.3 1319.5,1407.4 1324.3,1405.4 1329.0,1407.4 1333.8,1407.6 1338.7,1408.3 1343.5,1408.5 1348.3,1408.1 1353.2,1408.9 1358.1,1409.7 1363.0,1409.6 1368.0,1409.4 1372.9,1409.5 1377.9,1410.1 1382.9,1409.3 1387.9,1409.7 1392.9,1409.5 1398.0,1408.2 1403.1,1410.3 1408.2,1410.8 1413.3,1410.4 1418.4,1410.4 1423.6,1410.9 1428.8,1411.7 1434.0,1411.1 1439.2,1412.0 1444.4,1412.1 1449.7,1409.9 1455.0,1410.9 1460.3,1411.7 1465.7,1411.5 1471.0,1412.3 1476.4,1412.3 1481.8,1412.4 1487.2,1412.3 1492.7,1410.6 1498.1,1412.4 1503.6,1411.6 1509.1,1413.1 1514.7,1413.2 1520.2,1414.5 1525.8,1413.9 1531.4,1412.1 1537.1,1414.4 1542.7,1414.2 1548.4,1414.5 1554.1,1414.8 1559.9,1413.7 1565.6,1413.1 1571.4,1414.4 1577.2,1413.4 1583.0,1412.4 1588.9,1413.2 1594.8,1413.9 1600.7,1414.7 1606.6,1414.3 1612.6,1414.0 1618.6,1414.8 1624.6,1414.9 1630.6,1415.2 1636.7,1414.0 1642.8,1415.6 1648.9,1414.4 1655.1,1415.3 1661.3,1415.5 1667.5,1414.7 1673.7,1414.8 1680.0,1414.2 1686.3,1414.4 1692.6,1414.1 1698.9,1413.3 1705.3,1412.8 1711.7,1411.8 1718.2,1412.1 1724.6,1411.9 1731.1,1411.2 1737.6,1410.0 1744.2,1410.4 1750.8,1407.8 1757.4,1403.9 1764.0,1399.3 1770.7,1398.8 1777.4,1397.2 1784.2,1392.4 1791.0,1392.2 1797.8,1390.4 1804.6,1391.2 1811.5,1390.5 1818.4,1387.0 1825.3,1383.0 1832.3,1377.9 1839.3,1370.3 1846.3,1365.5 1853.4,1360.1 1860.5,1361.0 1867.6,1356.0 1874.8,1346.8 1882.0,1335.5 1889.2,1325.5 1896.5,1324.7 1903.8,1318.9 1911.2,1306.2 1918.6,1294.7 1926.0,1280.0 1933.4,1266.9 1940.9,1251.7 1948.5,1229.0 1956.0,1206.7 1963.7,1189.0 1971.3,1175.2" fill="none" stroke="#00f" stroke-width="16" stroke-linejoin="miter" stroke-miterlimit="5" stroke-linecap="butt"/>
<polyline points="343.1,1403.0 344.8,1392.0 346.5,1403.0" fill="none" stroke="#00f" stroke-width="16" stroke-linejoin="miter" stroke-miterlimit="10" stroke-linecap="butt"/>
</g>
<g stroke="#000" stroke-width="11.6" stroke-linecap="butt" shape-rendering="crispEdges">
<line x1="366.4" y1="1416.5" x2="604" y2="410"/>
<line x1="564" y1="1426" x2="854.5" y2="426.5"/>
<line x1="558" y1="1426" x2="1142" y2="508"/>
</g>
<g fill="#fff" stroke="#000" stroke-width="4.6" shape-rendering="crispEdges">
<rect x="527.4" y="447.1" width="100.1" height="185"/>
<rect x="747.4" y="534.1" width="100" height="184.3"/>
<rect x="975" y="604.3" width="99.9" height="184.4"/>
</g>
<text transform="translate(536.20,573.00) scale(1,1.04)" x="0.00" y="0" font-size="124.5" fill="#000">A</text>
<text transform="translate(758.70,661.00) scale(1,1.04)" x="0.00" y="0" font-size="124.5" fill="#f00">B</text>
<text transform="translate(984.60,729.30) scale(1,1.04)" x="0.00" y="0" font-size="124.5" fill="#0f0">C</text>
<g stroke-width="15" shape-rendering="crispEdges">
<line x1="1333" y1="96.7" x2="1521" y2="96.7" stroke="#000"/>
<line x1="1333" y1="193.7" x2="1521" y2="193.7" stroke="#f00"/>
<line x1="1333" y1="290.6" x2="1521" y2="290.6" stroke="#0f0"/>
<line x1="1333" y1="387.5" x2="1521" y2="387.5" stroke="#00f"/>
</g>
<text transform="translate(1531.30,120.20) scale(1,1.02)" x="0.00 48.14 85.22 107.42 148.15 185.22 225.95 266.67 303.75 322.27 344.47 381.54" y="0" font-size="75.5" fill="#000">As-deposited</text>
<clipPath id="k1"><path clip-rule="evenodd" d="M-999 -999H2999V999H-999Z M5.70 -8.76H19.93V1.51H5.70Z M30.35 -8.76H42.69V1.51H30.35Z"/></clipPath>
<text transform="translate(1532.50,216.60) scale(1,1.04)" clip-path="url(#k1)"><tspan x="2.30" y="0.00" font-size="75.5">1</tspan><tspan x="36.95 73.90" y="0.00" font-size="75.5">00</tspan><tspan x="112.00" y="-35.38" font-size="44">o</tspan><tspan x="135.50" y="0.00" font-size="75.5">C</tspan></text>
<text transform="translate(1532.50,314.10) scale(1,1.04)"><tspan x="0.00 36.95 73.90" y="0.00" font-size="75.5">300</tspan><tspan x="112.00" y="-35.38" font-size="44">o</tspan><tspan x="135.50" y="0.00" font-size="75.5">C</tspan></text>
<text transform="translate(1532.50,409.80) scale(1,1.04)"><tspan x="0.00 36.95 73.90" y="0.00" font-size="75.5">400</tspan><tspan x="112.00" y="-35.38" font-size="44">o</tspan><tspan x="135.50" y="0.00" font-size="75.5">C</tspan></text>
<clipPath id="k2"><path clip-rule="evenodd" d="M-999 -999H2999V999H-999Z M-32.98 -7.19H-21.29V1.24H-32.98Z M-12.74 -7.19H-2.60V1.24H-12.74Z"/></clipPath>
<text transform="translate(288.40,1505.80) scale(1,1.04)" x="-35.77 -7.15 7.15" y="0" font-size="62" fill="#000" clip-path="url(#k2)">1.4</text>
<clipPath id="k3"><path clip-rule="evenodd" d="M-999 -999H2999V999H-999Z M-32.98 -7.19H-21.29V1.24H-32.98Z M-12.74 -7.19H-2.60V1.24H-12.74Z"/></clipPath>
<text transform="translate(486.20,1505.80) scale(1,1.04)" x="-35.77 -7.15 7.15" y="0" font-size="62" fill="#000" clip-path="url(#k3)">1.6</text>
<clipPath id="k4"><path clip-rule="evenodd" d="M-999 -999H2999V999H-999Z M-32.98 -7.19H-21.29V1.24H-32.98Z M-12.74 -7.19H-2.60V1.24H-12.74Z"/></clipPath>
<text transform="translate(684.00,1505.80) scale(1,1.04)" x="-35.77 -7.15 7.15" y="0" font-size="62" fill="#000" clip-path="url(#k4)">1.8</text>
<text transform="translate(881.80,1505.80) scale(1,1.04)" x="-35.77 -7.15 7.15" y="0" font-size="62" fill="#000">2.0</text>
<text transform="translate(1079.60,1505.80) scale(1,1.04)" x="-35.77 -7.15 7.15" y="0" font-size="62" fill="#000">2.2</text>
<text transform="translate(1277.40,1505.80) scale(1,1.04)" x="-35.77 -7.15 7.15" y="0" font-size="62" fill="#000">2.4</text>
<text transform="translate(1475.20,1505.80) scale(1,1.04)" x="-35.77 -7.15 7.15" y="0" font-size="62" fill="#000">2.6</text>
<text transform="translate(1673.00,1505.80) scale(1,1.04)" x="-35.77 -7.15 7.15" y="0" font-size="62" fill="#000">2.8</text>
<text transform="translate(1870.80,1505.80) scale(1,1.04)" x="-35.77 -7.15 7.15" y="0" font-size="62" fill="#000">3.0</text>
<text transform="translate(242.00,1431.70) scale(1,1.04)" x="-103.78 -74.12 -59.31 -29.65" y="0" font-size="62" fill="#000">0.00</text>
<text transform="translate(242.00,1218.54) scale(1,1.04)" x="-103.78 -74.12 -59.31 -29.65" y="0" font-size="62" fill="#000">0.05</text>
<clipPath id="k5"><path clip-rule="evenodd" d="M-999 -999H2999V999H-999Z M-56.52 -7.19H-44.83V1.24H-56.52Z M-36.28 -7.19H-26.14V1.24H-36.28Z"/></clipPath>
<text transform="translate(242.00,1005.37) scale(1,1.04)" x="-103.78 -74.12 -59.31 -29.65" y="0" font-size="62" fill="#000" clip-path="url(#k5)">0.10</text>
<clipPath id="k6"><path clip-rule="evenodd" d="M-999 -999H2999V999H-999Z M-56.52 -7.19H-44.83V1.24H-56.52Z M-36.28 -7.19H-26.14V1.24H-36.28Z"/></clipPath>
<text transform="translate(242.00,792.20) scale(1,1.04)" x="-103.78 -74.12 -59.31 -29.65" y="0" font-size="62" fill="#000" clip-path="url(#k6)">0.15</text>
<text transform="translate(242.00,579.04) scale(1,1.04)" x="-103.78 -74.12 -59.31 -29.65" y="0" font-size="62" fill="#000">0.20</text>
<text transform="translate(242.00,365.87) scale(1,1.04)" x="-103.78 -74.12 -59.31 -29.65" y="0" font-size="62" fill="#000">0.25</text>
<text transform="translate(242.00,152.71) scale(1,1.04)" x="-103.78 -74.12 -59.31 -29.65" y="0" font-size="62" fill="#000">0.30</text>
<text transform="translate(1018.50,1617.00) scale(1,1)"><tspan x="0.00" y="0.00" font-size="76">h</tspan><tspan x="41.50" y="1.00" font-size="80" class="sym">υ</tspan><tspan x="80.00" y="0.00" font-size="76"> </tspan><tspan x="95.80 118.20 155.61 200.47" y="0.00" font-size="76">(eV)</tspan></text>
<text transform="translate(88.90,864.60) rotate(-90) scale(1,1)"><tspan x="-3.50" y="0.00" font-size="76">(</tspan><tspan x="17.00" y="0.00" font-size="82" class="symb">α</tspan><tspan x="56.50" y="0.00" font-size="76">h</tspan><tspan x="96.00" y="0.00" font-size="84" class="symb">υ</tspan><tspan x="134.00" y="0.00" font-size="76">)</tspan><tspan x="153.50" y="-36.90" font-size="46.5">2</tspan></text>
</svg></body></html>
